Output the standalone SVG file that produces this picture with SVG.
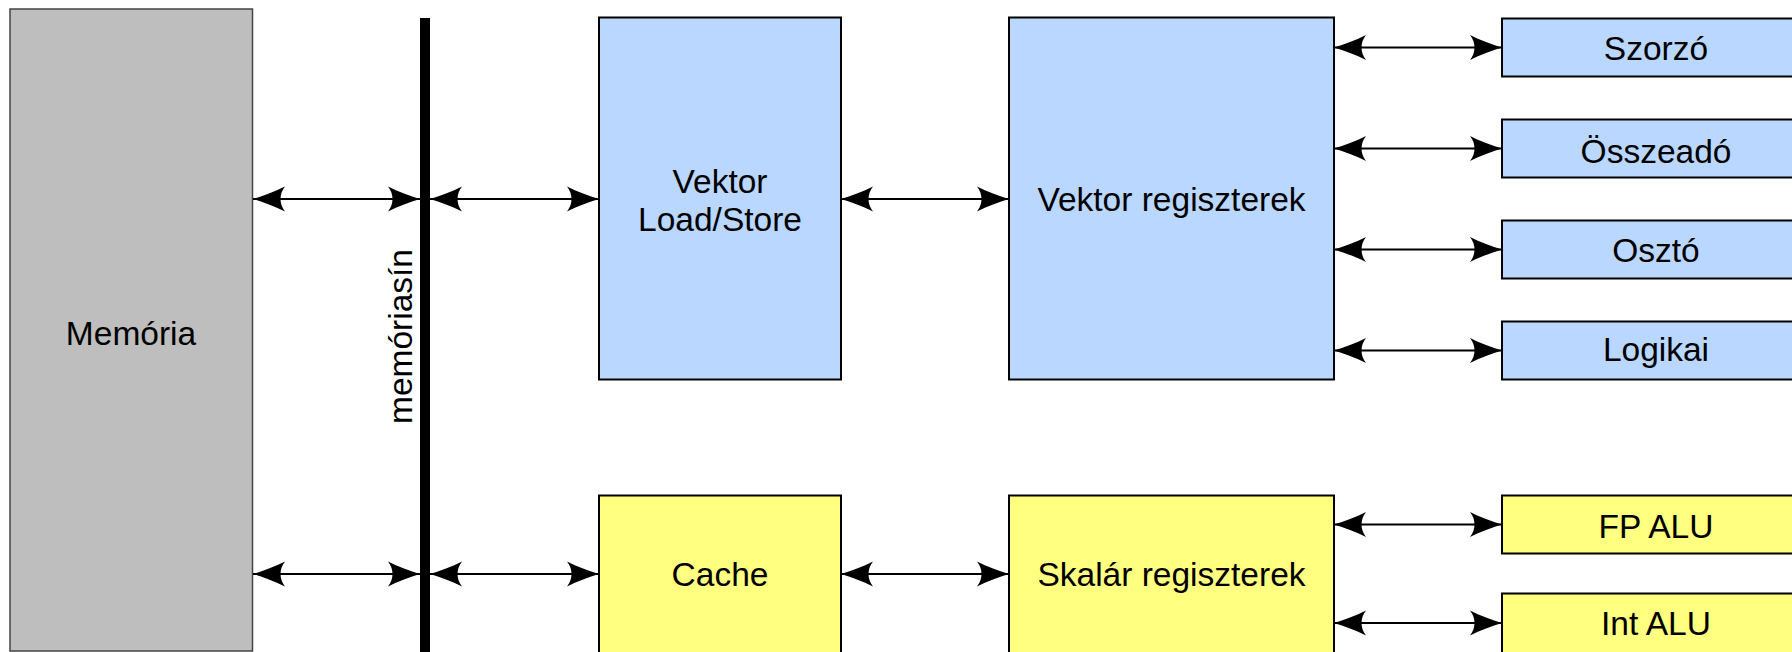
<svg xmlns="http://www.w3.org/2000/svg" width="1792" height="652" viewBox="0 0 1792 652">
  <style>
    .t { font-family: "Liberation Sans", Arial, sans-serif; font-size: 33.5px; fill: #000; text-anchor: middle; }
    .blue { fill: #bad7ff; stroke: #000; stroke-width: 2; }
    .yellow { fill: #ffff80; stroke: #000; stroke-width: 2; }
    .gray { fill: #bebebe; stroke: #444; stroke-width: 1.5; }
    .conn { stroke: #000; stroke-width: 2; fill: none; marker-start: url(#ah); marker-end: url(#ah); }
  </style>
  <defs>
    <marker id="ah" viewBox="-34 -14 36 28" refX="0" refY="0" markerWidth="36" markerHeight="28" markerUnits="userSpaceOnUse" orient="auto-start-reverse">
      <path d="M0,0 C-10,-3 -22,-7.5 -32,-12.5 C-26,-5 -26,5 -32,12.5 C-22,7.5 -10,3 0,0 Z" fill="#000"/>
    </marker>
  </defs>

  <g id="memoria">
    <rect class="gray" x="10" y="9" width="242.5" height="642"/>
    <text class="t" x="131" y="345">Memória</text>
  </g>

  <g id="memoriasin">
    <rect x="420" y="18" width="10" height="640" fill="#000"/>
    <text class="t" transform="translate(412,336.5) rotate(-90)" x="0" y="0">memóriasín</text>
  </g>

  <g id="vektor-loadstore">
    <rect class="blue" x="599" y="17.5" width="242" height="362"/>
    <text class="t" x="720" y="193">Vektor</text>
    <text class="t" x="720" y="231">Load/Store</text>
  </g>

  <g id="vektor-regiszterek">
    <rect class="blue" x="1009" y="17.5" width="325" height="362"/>
    <text class="t" x="1171.5" y="211">Vektor regiszterek</text>
  </g>

  <g id="szorzo">
    <rect class="blue" x="1502" y="18.5" width="310" height="58"/>
    <text class="t" x="1656" y="60">Szorzó</text>
  </g>
  <g id="osszeado">
    <rect class="blue" x="1502" y="119.5" width="310" height="58"/>
    <text class="t" x="1656" y="163">Összeadó</text>
  </g>
  <g id="oszto">
    <rect class="blue" x="1502" y="220.5" width="310" height="58"/>
    <text class="t" x="1656" y="262">Osztó</text>
  </g>
  <g id="logikai">
    <rect class="blue" x="1502" y="321.5" width="310" height="58"/>
    <text class="t" x="1656" y="361">Logikai</text>
  </g>

  <g id="cache">
    <rect class="yellow" x="599" y="495.5" width="242" height="170"/>
    <text class="t" x="720" y="586">Cache</text>
  </g>

  <g id="skalar-regiszterek">
    <rect class="yellow" x="1009" y="495.5" width="325" height="170"/>
    <text class="t" x="1171.5" y="586">Skalár regiszterek</text>
  </g>

  <g id="fp-alu">
    <rect class="yellow" x="1502" y="495.5" width="310" height="58"/>
    <text class="t" x="1656" y="537.5">FP ALU</text>
  </g>
  <g id="int-alu">
    <rect class="yellow" x="1502" y="593.5" width="310" height="70"/>
    <text class="t" x="1656" y="635">Int ALU</text>
  </g>

  <g id="connectors">
    <line class="conn" x1="253" y1="199" x2="420" y2="199"/>
    <line class="conn" x1="430" y1="199" x2="599" y2="199"/>
    <line class="conn" x1="253" y1="574" x2="420" y2="574"/>
    <line class="conn" x1="430" y1="574" x2="599" y2="574"/>
    <line class="conn" x1="841" y1="199" x2="1009" y2="199"/>
    <line class="conn" x1="841" y1="574" x2="1009" y2="574"/>
    <line class="conn" x1="1334" y1="47.5" x2="1502" y2="47.5"/>
    <line class="conn" x1="1334" y1="148.5" x2="1502" y2="148.5"/>
    <line class="conn" x1="1334" y1="249.5" x2="1502" y2="249.5"/>
    <line class="conn" x1="1334" y1="350.5" x2="1502" y2="350.5"/>
    <line class="conn" x1="1334" y1="524.5" x2="1502" y2="524.5"/>
    <line class="conn" x1="1334" y1="623" x2="1502" y2="623"/>
  </g>
</svg>
